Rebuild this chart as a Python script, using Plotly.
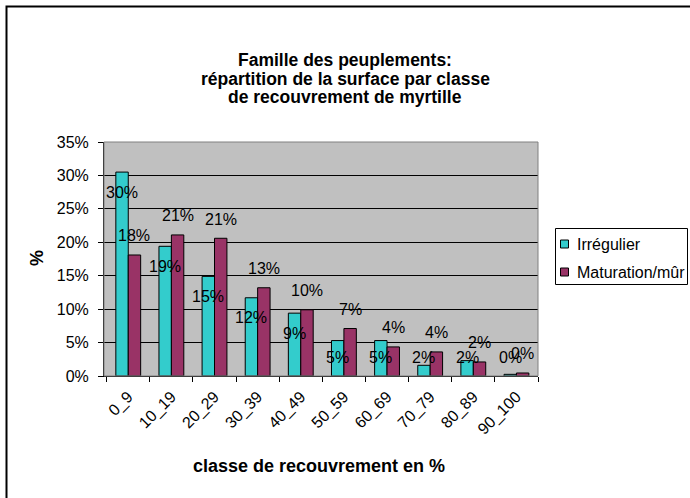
import plotly.graph_objects as go

categories = ["0_9", "10_19", "20_29", "30_39", "40_49", "50_59", "60_69", "70_79", "80_89", "90_100"]
irregulier = [30.5, 19.4, 14.9, 11.7, 9.4, 5.3, 5.3, 1.6, 2.3, 0.25]
maturation = [18.1, 21.1, 20.6, 13.2, 9.9, 7.1, 4.35, 3.6, 2.1, 0.45]
y_ticks = [0, 5, 10, 15, 20, 25, 30, 35]
y_tick_labels = ["0%", "5%", "10%", "15%", "20%", "25%", "30%", "35%"]
series_names = ["Irrégulier", "Maturation/mûr"]
series_colors = ["#33CCCC", "#993366"]
title_lines = ["Famille des peuplements:", "répartition de la surface par classe",
               "de recouvrement de myrtille"]
x_title = "classe de recouvrement en %"
y_title = "%"

FONT = "Liberation Sans, Arial, sans-serif"
W, H = 690, 498
L, R, T, B = 104, 152, 142, 122
pw = W - L - R
ph = H - T - B
px_per_unit = ph / 35.0


def xp(px):
    return (px - L) / pw


def yp(py):
    return (H - B - py) / ph


fig = go.Figure()
for name, vals, col in zip(series_names, [irregulier, maturation], series_colors):
    fig.add_trace(go.Bar(name=name, x=categories, y=vals, showlegend=False,
                         hoverinfo="skip",
                         marker=dict(color=col, line=dict(color="#000000", width=1))))

annotations = []
cat_w = pw / len(categories)
bargap = 0.424
bar_px = cat_w * (1 - bargap) / 2
floor_val = (H - B - 357.7) / px_per_unit
lab_font = dict(family=FONT, size=16, color="#000000")
for c, v in zip(categories, irregulier):
    yv = max(v - 20 / px_per_unit, floor_val)
    annotations.append(dict(x=c, y=yv, xref="x", yref="y", text=f"{round(v)}%",
                            showarrow=False, xshift=-bar_px / 2, yanchor="middle",
                            font=lab_font))
for c, v in zip(categories, maturation):
    annotations.append(dict(x=c, y=v, xref="x", yref="y", text=f"{round(v)}%",
                            showarrow=False, xshift=bar_px / 2, yshift=19, yanchor="middle",
                            font=lab_font))

for line, py in zip(title_lines, [60, 79, 97]):
    annotations.append(dict(x=xp(345), y=yp(py), xref="paper", yref="paper",
                            text=f"<b>{line}</b>", showarrow=False, xanchor="center",
                            yanchor="middle", font=dict(family=FONT, size=17.5, color="#000000")))

annotations.append(dict(x=xp(319), y=yp(466), xref="paper", yref="paper",
                        text=f"<b>{x_title}</b>", showarrow=False, xanchor="center",
                        yanchor="middle", font=dict(family=FONT, size=18, color="#000000")))
annotations.append(dict(x=xp(37), y=yp(258), xref="paper", yref="paper",
                        text=f"<b>{y_title}</b>", showarrow=False, textangle=-90,
                        xanchor="center", yanchor="middle",
                        font=dict(family=FONT, size=18, color="#000000")))

shapes = [
    dict(type="rect", xref="paper", yref="paper", x0=0, x1=1, y0=0, y1=1,
         line=dict(color="#808080", width=1), fillcolor="rgba(0,0,0,0)", layer="above"),
    dict(type="rect", xref="paper", yref="paper",
         x0=xp(6.5), x1=xp(W + 20), y0=yp(H + 20), y1=yp(6.5),
         line=dict(color="#000000", width=2), fillcolor="rgba(0,0,0,0)"),
    dict(type="rect", xref="paper", yref="paper",
         x0=xp(555.5), x1=xp(687.5), y0=yp(284.5), y1=yp(228.5),
         line=dict(color="#000000", width=1), fillcolor="#FFFFFF"),
]

for name, col, cy in zip(series_names, series_colors, [244, 272]):
    shapes.append(dict(type="rect", xref="paper", yref="paper",
                       x0=xp(560.5), x1=xp(568.5), y0=yp(cy + 4), y1=yp(cy - 4),
                       line=dict(color="#000000", width=1), fillcolor=col))
    annotations.append(dict(x=xp(575), y=yp(cy), xref="paper", yref="paper",
                            text=name, showarrow=False, xanchor="left", yanchor="middle",
                            font=dict(family=FONT, size=16, color="#000000")))

fig.update_layout(
    width=W, height=H,
    margin=dict(l=L, r=R, t=T, b=B, pad=0),
    paper_bgcolor="#FFFFFF",
    plot_bgcolor="#C0C0C0",
    barmode="group",
    bargap=bargap,
    bargroupgap=0,
    showlegend=False,
    hovermode=False,
    font=dict(family=FONT, size=16, color="#000000"),
    xaxis=dict(type="category", tickangle=-45, ticks="outside", ticklen=5,
               tickcolor="#000000", tickson="boundaries", showline=True,
               linecolor="#000000", linewidth=1, showgrid=False,
               ticklabelstandoff=4,
               tickfont=dict(family=FONT, size=16, color="#000000")),
    yaxis=dict(range=[0, 35], tickmode="array", tickvals=y_ticks, ticktext=y_tick_labels,
               ticks="outside", ticklen=5, tickcolor="#000000", showline=True,
               linecolor="#000000", linewidth=1, showgrid=True, gridcolor="#000000",
               gridwidth=1, zeroline=False, ticklabelstandoff=6,
               tickfont=dict(family=FONT, size=16, color="#000000")),
    annotations=annotations,
    shapes=shapes,
)

fig.write_html("out.html", config={"displayModeBar": False},
               post_script="document.body.style.margin='0px';")
